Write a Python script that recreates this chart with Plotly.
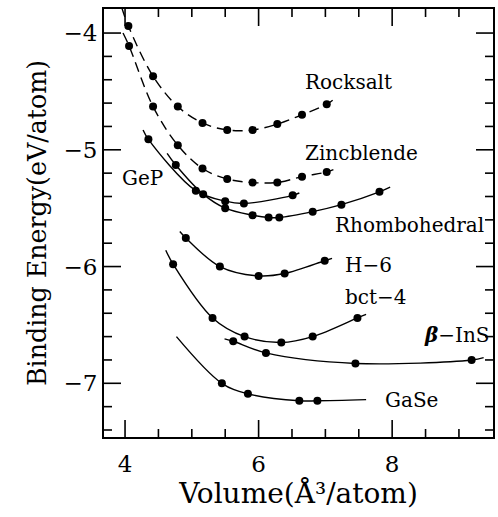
import plotly.graph_objects as go

# ---- data (volume in Å^3/atom, energy in eV/atom) ----
rocksalt_v = [4.05, 4.42, 4.79, 5.16, 5.53, 5.91, 6.28, 6.65, 7.02]
rocksalt_e = [-3.94, -4.37, -4.63, -4.77, -4.83, -4.83, -4.78, -4.70, -4.61]
rocksalt_fit_v = [3.95, 7.12]
rocksalt_fit_e = [-3.78, -4.57]

zinc_v = [4.06, 4.42, 4.79, 5.16, 5.53, 5.91, 6.28, 6.65, 7.02]
zinc_e = [-4.11, -4.63, -4.96, -5.16, -5.25, -5.28, -5.28, -5.23, -5.19]
zinc_fit_v = [3.97, 7.12]
zinc_fit_e = [-4.00, -5.17]

gep_v = [4.35, 5.06, 5.50, 5.78, 6.51]
gep_e = [-4.91, -5.35, -5.44, -5.46, -5.39]
gep_fit_v = [4.27, 6.61]
gep_fit_e = [-4.83, -5.37]

rhombo_v = [4.76, 5.17, 5.50, 5.91, 6.15, 6.31, 6.81, 7.24, 7.81]
rhombo_e = [-5.13, -5.38, -5.50, -5.56, -5.58, -5.58, -5.53, -5.47, -5.36]
rhombo_fit_v = [4.63, 7.97]
rhombo_fit_e = [-5.03, -5.32]

h6_v = [4.91, 5.42, 6.00, 6.39, 6.99]
h6_e = [-5.755, -6.00, -6.08, -6.06, -5.95]
h6_fit_v = [4.82, 7.10]
h6_fit_e = [-5.70, -5.93]

bct4_v = [4.72, 5.31, 5.79, 6.34, 6.81, 7.48]
bct4_e = [-5.98, -6.44, -6.60, -6.65, -6.60, -6.44]
bct4_fit_v = [4.61, 7.61]
bct4_fit_e = [-5.86, -6.41]

ins_v = [5.62, 6.11, 7.45, 9.19]
ins_e = [-6.64, -6.74, -6.83, -6.80]
ins_fit_v = [5.49, 9.37]
ins_fit_e = [-6.62, -6.78]

gase_v = [5.45, 5.84, 6.61, 6.88]
gase_e = [-7.00, -7.09, -7.15, -7.15]
gase_fit_v = [4.77, 7.61]
gase_fit_e = [-6.60, -7.14]

label_text = ["Rocksalt", "Zincblende", "GeP", "Rhombohedral", "H−6", "bct−4",
              "<b><i>β</i></b>−InS", "GaSe"]
label_v = [6.66, 6.66, 3.925, 7.12, 7.26, 7.27, 8.44, 7.86]
label_e = [-4.416, -5.03, -5.24, -5.64, -5.99, -6.26, -6.59, -7.14]

# tick positions
x_major_ticks = [4, 6, 8]
x_minor_ticks = [4.5, 5, 5.5, 6.5, 7, 7.5, 8.5, 9]
y_major_ticks = [-4, -5, -6, -7]
y_minor_ticks = [-4.2, -4.4, -4.6, -4.8, -5.2, -5.4, -5.6, -5.8, -6.2, -6.4,
                 -6.6, -6.8, -7.2, -7.4]

series = [
    (rocksalt_v, rocksalt_e, rocksalt_fit_v, rocksalt_fit_e, True),
    (zinc_v, zinc_e, zinc_fit_v, zinc_fit_e, True),
    (gep_v, gep_e, gep_fit_v, gep_fit_e, False),
    (rhombo_v, rhombo_e, rhombo_fit_v, rhombo_fit_e, False),
    (h6_v, h6_e, h6_fit_v, h6_fit_e, False),
    (bct4_v, bct4_e, bct4_fit_v, bct4_fit_e, False),
    (ins_v, ins_e, ins_fit_v, ins_fit_e, False),
    (gase_v, gase_e, gase_fit_v, gase_fit_e, False),
]

FONT = "DejaVu Serif"
W, H = 498, 517
ML, MR, MT, MB = 104, 5, 9, 80
XR = [3.685, 9.51]
YR = [-7.46, -3.794]
MAJOR_LEN, MINOR_LEN = 17, 8          # tick lengths in pixels
px_per_x = (W - ML - MR) / (XR[1] - XR[0])
px_per_y = (H - MT - MB) / (YR[1] - YR[0])

fig = go.Figure()
for v, e, fv, fe, dashed in series:
    cx = [fv[0]] + v + [fv[1]]
    cy = [fe[0]] + e + [fe[1]]
    fig.add_trace(go.Scatter(
        x=cx, y=cy, mode="lines",
        line=dict(color="black", width=1.4, shape="spline", smoothing=1.0,
                  dash="10px,6px" if dashed else "solid"),
        hoverinfo="skip", showlegend=False))
    fig.add_trace(go.Scatter(
        x=v, y=e, mode="markers",
        marker=dict(color="black", size=8),
        showlegend=False))

# inward tick marks on all four sides (drawn in axis units)
tx, ty = [], []
for vals, ln in ((x_major_ticks, MAJOR_LEN), (x_minor_ticks, MINOR_LEN)):
    d = ln / px_per_y
    for xv in vals:
        tx += [xv, xv, None, xv, xv, None]
        ty += [YR[0], YR[0] + d, None, YR[1], YR[1] - d, None]
for vals, ln in ((y_major_ticks, MAJOR_LEN), (y_minor_ticks, MINOR_LEN)):
    d = ln / px_per_x
    for yv in vals:
        tx += [XR[0], XR[0] + d, None, XR[1], XR[1] - d, None]
        ty += [yv, yv, None, yv, yv, None]
fig.add_trace(go.Scatter(x=tx, y=ty, mode="lines", connectgaps=False,
                         line=dict(color="black", width=1.6),
                         hoverinfo="skip", showlegend=False))

for t, xv, yv in zip(label_text, label_v, label_e):
    fig.add_annotation(x=xv, y=yv, text=t, showarrow=False, xanchor="left",
                       yanchor="middle", font=dict(family=FONT, size=20, color="black"))

fig.update_xaxes(range=XR, tickmode="array", tickvals=x_major_ticks,
                 showline=True, linecolor="black", linewidth=2, mirror=True,
                 ticks="", showgrid=False, zeroline=False, automargin=False,
                 tickfont=dict(family=FONT, size=23, color="black"),
                 title=dict(text="Volume(Å³/atom)", font=dict(family=FONT, size=28, color="black"),
                            standoff=6),
                 ticklabelstandoff=5)
fig.update_yaxes(range=YR, tickmode="array", tickvals=y_major_ticks,
                 showline=True, linecolor="black", linewidth=2, mirror=True,
                 ticks="", showgrid=False, zeroline=False, automargin=False,
                 tickfont=dict(family=FONT, size=23, color="black"),
                 title=dict(text="\u00a0\u00a0\u00a0\u00a0\u00a0Binding Energy(eV/atom)",
                            font=dict(family=FONT, size=25.3, color="black"),
                            standoff=10),
                 ticksuffix="\u2002")

fig.update_layout(width=W, height=H, margin=dict(l=ML, r=MR, t=MT, b=MB),
                  plot_bgcolor="white", paper_bgcolor="white")
fig.write_html("out.html", config={"displayModeBar": False},
               post_script="document.body.style.margin='0';")
